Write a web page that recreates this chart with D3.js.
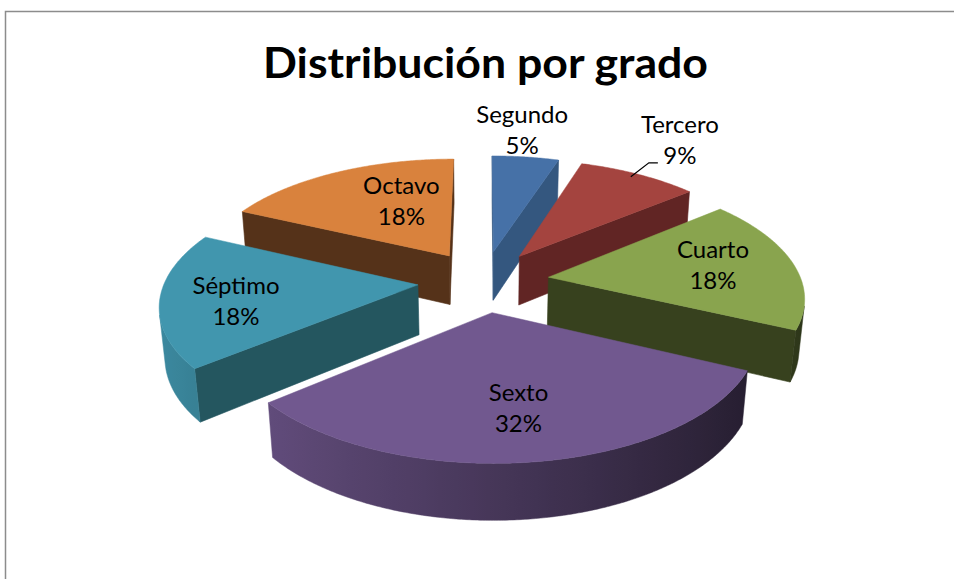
<!DOCTYPE html>
<html><head><meta charset="utf-8">
<script src="https://cdn.jsdelivr.net/npm/d3@7"></script>
<style>body{margin:0;background:#fff} svg{display:block}</style>
</head><body>
<script>
// ---- data ----
const categories = ["Segundo","Tercero","Cuarto","Sexto","Séptimo","Octavo"];
const values = [5, 9, 18, 32, 18, 18];
const percentLabels = ["5%","9%","18%","32%","18%","18%"];
const chartTitle = "Distribución por grado";

// ---- styles ----
const topColors  = ["#4671A7","#A4443F","#89A44E","#71588F","#4196AE","#D9823D"];
const wallColors = ["#34577F","#612524","#37411E","#3A2C4C","#24565F","#553219"];
// label placement: radius fraction & angular nudge (deg)
const labelPlace = [{r:1.30,da:-2.5},{r:1.45,da:-1},{r:0.67,da:0},{r:0.69,da:0},{r:0.71,da:-5},{r:0.555,da:9}];

const W = 954, H = 579;
const svg = d3.select("body").append("svg").attr("width", W).attr("height", H);
const defs = svg.append("defs");
svg.append("rect").attr("x", 5.5).attr("y", 11.5).attr("width", W + 20).attr("height", H + 20)
  .attr("fill", "#fff").attr("stroke", "#8c8c8c").attr("stroke-width", 1.5);

// ---- camera ----
const tilt = 27.8 * Math.PI / 180, sT = Math.sin(tilt), cT = Math.cos(tilt);
const dist = 5.98, focal = 1513, cx = 483.5, cy = 281, explode = 0.26, depth = 0.226;
function project(X, Y, Z) {
  const yc = Y * cT + Z * sT;
  const zc = dist + Z * cT - Y * sT;
  return [cx + focal * X / zc, cy - focal * yc / zc];
}
const cam = { X: 0, Y: dist * sT, Z: -dist * cT };
const line = d3.line();

function shade(col, f) {
  const c = d3.rgb(col);
  return d3.rgb(Math.min(255, c.r * f), Math.min(255, c.g * f), Math.min(255, c.b * f)).toString();
}

const arcs = d3.pie().sort(null).value(d => d)(values);
const slices = arcs.map((a, i) => {
  const mid = (a.startAngle + a.endAngle) / 2;
  return { i, a0: a.startAngle, a1: a.endAngle, mid,
           ox: explode * Math.sin(mid), oz: explode * Math.cos(mid) };
});
const order = slices.slice().sort((p, q) => q.oz - p.oz);

const g = svg.append("g");
function pt(s, r, ang, Y) { return project(s.ox + r * Math.sin(ang), Y, s.oz + r * Math.cos(ang)); }
function visible(nx, nz, px, pz) { return nx * (cam.X - px) + nz * (cam.Z - pz) > 0; }

order.forEach(s => {
  const gs = g.append("g");
  const top = topColors[s.i], wall = wallColors[s.i];
  // radial walls
  [[s.a0, -Math.cos(s.a0), Math.sin(s.a0)], [s.a1, Math.cos(s.a1), -Math.sin(s.a1)]].forEach(([ang, nx, nz]) => {
    const px = s.ox + 0.5 * Math.sin(ang), pz = s.oz + 0.5 * Math.cos(ang);
    if (!visible(nx, nz, px, pz)) return;
    const poly = [pt(s, 0, ang, 0), pt(s, 1, ang, 0), pt(s, 1, ang, -depth), pt(s, 0, ang, -depth)];
    gs.append("path").attr("d", line(poly) + "Z").attr("fill", wall).attr("stroke", wall).attr("stroke-width", 0.6);
  });
  // outer wall: visible contiguous range, one path with gradient
  const n = Math.max(8, Math.ceil((s.a1 - s.a0) / (Math.PI / 360)));
  const angs = d3.range(n + 1).map(k => s.a0 + (s.a1 - s.a0) * k / n);
  const vis = angs.map(b => visible(Math.sin(b), Math.cos(b), s.ox + Math.sin(b), s.oz + Math.cos(b)));
  let runs = [], cur = null;
  angs.forEach((b, k) => {
    if (vis[k]) { if (!cur) { cur = []; runs.push(cur); } cur.push(b); } else cur = null;
  });
  runs.forEach((run, ri) => {
    if (run.length < 2) return;
    const topArc = run.map(b => pt(s, 1, b, 0));
    const botArc = run.map(b => pt(s, 1, b, -depth)).reverse();
    const xs = topArc.map(p => p[0]);
    const xa = xs[0], xb = xs[xs.length - 1];
    const id = "ow" + s.i + "_" + ri;
    const grad = defs.append("linearGradient").attr("id", id).attr("gradientUnits", "userSpaceOnUse")
      .attr("x1", xa).attr("y1", 0).attr("x2", xb).attr("y2", 0);
    const span = (xb - xa) || 1;
    let last = -1;
    run.forEach((b, k) => {
      if (k % 6 !== 0 && k !== run.length - 1) return;
      let off = Math.max(0, Math.min(1, (xs[k] - xa) / span));
      if (off < last) off = last;
      last = off;
      grad.append("stop").attr("offset", off).attr("stop-color", shade(top, 0.62 - 0.31 * Math.sin(b)));
    });
    gs.append("path").attr("d", line(topArc.concat(botArc)) + "Z")
      .attr("fill", `url(#${id})`).attr("stroke", `url(#${id})`).attr("stroke-width", 0.5);
  });
  // top face
  const topPts = [pt(s, 0, 0, 0)].concat(angs.map(b => pt(s, 1, b, 0)));
  gs.append("path").attr("d", line(topPts) + "Z").attr("fill", top).attr("stroke", top).attr("stroke-width", 0.5);
});

// ---- labels ----
const labelG = svg.append("g").attr("font-family", "Lato, 'Open Sans', sans-serif").attr("font-size", 24)
  .attr("fill", "#000").attr("text-anchor", "middle");
slices.forEach(s => {
  const lp = labelPlace[s.i];
  const ang = s.mid + lp.da * Math.PI / 180;
  const [lx, ly] = pt(s, lp.r, ang, 0);
  const t = labelG.append("text");
  t.append("tspan").attr("x", lx).attr("y", ly - 9).text(categories[s.i]);
  t.append("tspan").attr("x", lx).attr("y", ly + 22).text(percentLabels[s.i]);
  if (lp.r > 1.35) {
    const [sx, sy] = pt(s, 0.985, s.mid - 1 * Math.PI / 180, 0);
    labelG.append("path").attr("d", line([[sx - 3, sy + 2], [lx - 31, ly + 21], [lx - 22, ly + 21]]))
      .attr("fill", "none").attr("stroke", "#000").attr("stroke-width", 1.2);
  }
});

// ---- title ----
const tt = svg.append("text").attr("x", 485.5).attr("y", 78).attr("text-anchor", "middle")
  .attr("font-family", "Lato, 'Open Sans', sans-serif").attr("font-weight", "bold").attr("font-size", 42)
  .attr("fill", "#000").text(chartTitle);
const tl = tt.node().getComputedTextLength();
if (Math.abs(tl - 445) > 4) tt.attr("textLength", 445).attr("lengthAdjust", "spacingAndGlyphs");
</script>
</body></html>
